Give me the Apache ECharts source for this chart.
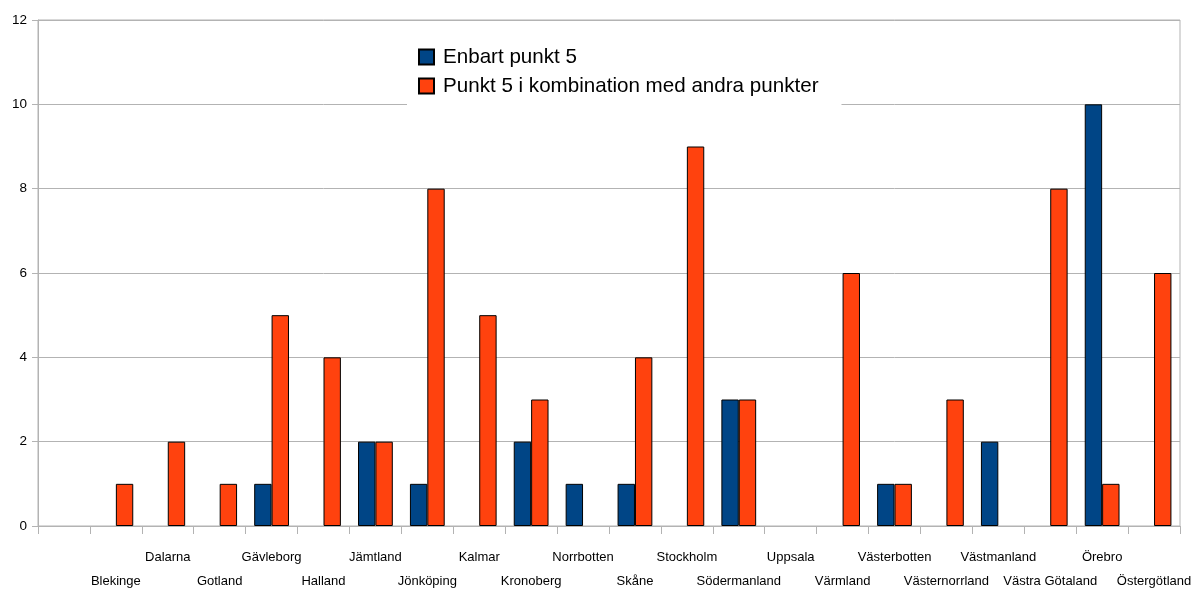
<!DOCTYPE html>
<html>
<head>
<meta charset="utf-8">
<script src="https://cdn.jsdelivr.net/npm/echarts@6/dist/echarts.min.js"></script>
<style>html,body{margin:0;padding:0;background:#fff}#c{width:1195px;height:590px}</style>
</head>
<body>
<div id="c"></div>
<script>
const categories = ['', 'Blekinge', 'Dalarna', 'Gotland', 'Gävleborg', 'Halland', 'Jämtland', 'Jönköping', 'Kalmar', 'Kronoberg', 'Norrbotten', 'Skåne', 'Stockholm', 'Södermanland', 'Uppsala', 'Värmland', 'Västerbotten', 'Västernorrland', 'Västmanland', 'Västra Götaland', 'Örebro', 'Östergötland'];
const enbart = [0, 0, 0, 0, 1, 0, 2, 1, 0, 2, 1, 1, 0, 3, 0, 0, 1, 0, 2, 0, 10, 0];
const kombination = [0, 1, 2, 1, 5, 4, 2, 8, 5, 3, 0, 4, 9, 3, 0, 6, 1, 3, 0, 8, 1, 6];
const seriesNames = ['Enbart punkt 5', 'Punkt 5 i kombination med andra punkter'];

// zero-height bars are not drawn in the reference
const hideZero = arr => arr.map(v => (v === 0 ? null : v));

const chart = echarts.init(document.getElementById('c'));
const grey = '#b3b3b3';
chart.setOption({
  animation: false,
  textStyle: { fontFamily: 'Liberation Sans, Arial, sans-serif' },
  grid: { left: 38, right: 15, top: 20, bottom: 64, outerBoundsMode: 'none', containLabel: false,
          show: true, borderColor: grey, borderWidth: 1, backgroundColor: 'transparent' },
  legend: {
    orient: 'vertical',
    left: 407, top: 38,
    backgroundColor: '#fff',
    padding: [8, 23, 8, 11],
    icon: 'rect',
    itemWidth: 15, itemHeight: 15, itemGap: 7,
    textStyle: { fontSize: 20.6, color: '#000', lineHeight: 22, padding: [0, 0, 0, 4] },
    data: seriesNames
  },
  xAxis: {
    type: 'category',
    data: categories,
    axisLine: { lineStyle: { color: grey } },
    axisTick: { show: true, length: 8, lineStyle: { color: grey }, alignWithLabel: false },
    axisLabel: {
      interval: 0, color: '#000', fontSize: 13, margin: 19, lineHeight: 24,
      formatter: (v, i) => (i % 2 === 0 ? v : '\n' + v)
    }
  },
  yAxis: {
    type: 'value', min: 0, max: 12, interval: 2,
    axisLine: { show: true, lineStyle: { color: grey } },
    axisTick: { show: true, length: 6, lineStyle: { color: grey } },
    splitLine: { lineStyle: { color: grey } },
    axisLabel: { color: '#000', fontSize: 13.5, margin: 11 }
  },
  series: [
    { name: seriesNames[0], type: 'bar', data: hideZero(enbart), barGap: '0%', barCategoryGap: '33%',
      itemStyle: { color: '#004586', borderColor: '#000', borderWidth: 1 } },
    { name: seriesNames[1], type: 'bar', data: hideZero(kombination), barGap: '0%', barCategoryGap: '33%',
      itemStyle: { color: '#ff420e', borderColor: '#000', borderWidth: 1 } }
  ]
});
</script>
</body>
</html>
